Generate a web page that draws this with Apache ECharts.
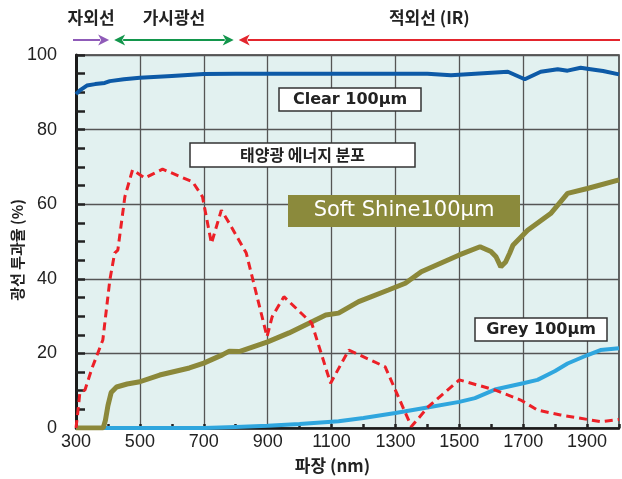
<!DOCTYPE html>
<html>
<head>
<meta charset="utf-8">
<script src="https://cdn.jsdelivr.net/npm/echarts@6/dist/echarts.min.js"></script>
<style>
    html, body { margin: 0; padding: 0; background: #fff; }
    #chart { width: 622px; height: 479px; }
</style>
</head>
<body>
<div id="chart"></div>
<script>
// wavelength (nm), transmittance (%)
const clearData = [
    [300, 89.5], [312, 90.5], [334, 91.8], [360, 92.2], [390, 92.5], [406, 93], [450, 93.5],
    [500, 93.9], [600, 94.4], [700, 94.9], [800, 95], [900, 95], [1000, 95], [1100, 95],
    [1200, 95], [1300, 95], [1400, 95], [1474, 94.6], [1550, 95], [1652, 95.5], [1705, 93.5],
    [1755, 95.5], [1808, 96.2], [1839, 95.8], [1880, 96.6], [1911, 96.2], [1950, 95.7], [2000, 94.8]
]
const softShineData = [
    [300, 0], [385, 0], [392, 2], [400, 6], [410, 9.5], [427, 11], [460, 11.8], [500, 12.4],
    [562, 14.2], [655, 16.1], [700, 17.4], [758, 19.6], [780, 20.6], [811, 20.5], [900, 23.1],
    [967, 25.5], [1082, 30.3], [1122, 30.8], [1185, 33.9], [1278, 37], [1331, 38.8], [1381, 41.9],
    [1500, 46.4], [1565, 48.6], [1599, 47.3], [1615, 45.9], [1630, 43.2], [1645, 44.5], [1658, 46.9],
    [1668, 49], [1714, 53], [1786, 57.5], [1839, 62.9], [1901, 64.2], [2000, 66.5]
]
const greyData = [
    [300, 0], [700, 0], [800, 0.3], [900, 0.6], [1000, 1.1], [1122, 1.8], [1200, 2.7], [1300, 4],
    [1400, 5.5], [1500, 7], [1549, 8], [1615, 10.4], [1700, 12], [1745, 12.9], [1800, 15.3],
    [1839, 17.3], [1900, 19.5], [1942, 20.9], [2000, 21.4]
]
const solarData = [
    [300, 0], [308, 6], [312, 9.4], [318, 9], [328, 10.2], [350, 16], [384, 23.6], [406, 39.7],
    [421, 46.9], [431, 47.7], [453, 62], [477, 69.2], [515, 67], [571, 69.4], [665, 66], [696, 62],
    [724, 49.5], [755, 58.4], [780, 54.9], [833, 46.9], [898, 24.5], [914, 29.8], [951, 35.2],
    [1038, 28.1], [1097, 12], [1154, 20.9], [1268, 16.4], [1350, 0.4], [1403, 5.7], [1500, 12.9],
    [1611, 10.2], [1692, 7.5], [1745, 4.8], [1817, 3.5], [1942, 1.7], [2000, 2.3]
]

const xTickLabels = [300, 500, 700, 900, 1100, 1300, 1500, 1700, 1900]
const bandNames = ['자외선', '가시광선', '적외선 (IR)']
const bandEdges = [300, 410, 800, 2000]
const bandColors = ['#8f5bb8', '#13964c', '#e3252d']

const chart = echarts.init(document.getElementById('chart'))

const option = {
    animation: false,
    grid: {
        left: 76, right: 1, top: 55, bottom: 51,
        show: true, backgroundColor: '#e2f1f0', borderColor: '#333', borderWidth: 1.5
    },
    xAxis: {
        type: 'value', min: 300, max: 2000, interval: 100,
        name: '파장 (nm)', nameLocation: 'middle', nameGap: 29,
        nameTextStyle: {
            fontFamily: 'Noto Sans CJK KR', fontWeight: 'bold', fontSize: 17, color: '#222',
            padding: [0, 30, 0, 0]
        },
        axisLine: { show: true, onZero: false, lineStyle: { color: '#1a1a1a', width: 2.5 } },
        axisTick: { show: true, inside: true, length: 4, lineStyle: { color: '#222', width: 2.5 } },
        axisLabel: {
            fontFamily: 'Liberation Sans', fontSize: 18, color: '#222', margin: 5,
            formatter: v => xTickLabels.includes(v) ? String(v) : ''
        },
        splitLine: { show: true, showMinLine: true, showMaxLine: true, lineStyle: { color: ['#555', 'transparent'], width: 1.3 } }
    },
    yAxis: {
        type: 'value', min: 0, max: 100, interval: 20,
        axisLine: { show: true, lineStyle: { color: '#1a1a1a', width: 3 } },
        axisTick: { show: true, inside: true, length: 9, lineStyle: { color: '#222', width: 2.5 } },
        minorTick: { show: true, splitNumber: 4, length: 9, lineStyle: { color: '#222', width: 2.5 } },
        axisLabel: { fontFamily: 'Liberation Sans', fontSize: 18, color: '#222', margin: 19 },
        splitLine: { show: true, lineStyle: { color: '#555', width: 1.3 } }
    },
    series: [
        {
            name: 'Grey 100μm', type: 'line', data: greyData, showSymbol: false, z: 2,
            lineStyle: { color: '#2fa6de', width: 4 }
        },
        {
            name: 'Soft Shine100μm', type: 'line', data: softShineData, showSymbol: false, z: 3,
            lineStyle: { color: '#8b883a', width: 5 }
        },
        {
            name: 'Clear 100μm', type: 'line', data: clearData, showSymbol: false, z: 4,
            lineStyle: { color: '#0d5aa7', width: 4 }
        },
        {
            name: '태양광 에너지 분포', type: 'line', data: solarData, showSymbol: false, z: 5,
            lineStyle: { color: '#ec2027', width: 3, type: [8, 5] }
        }
    ]
}

chart.setOption(option)

// label boxes
function labelBox(x, y, w, h, text, style) {
    return {
        type: 'group', x: x, y: y, z: 10,
        children: [
            {
                type: 'rect', shape: { x: 0, y: 0, width: w, height: h },
                style: style.box
            },
            {
                type: 'text', x: w / 2, y: h / 2,
                style: Object.assign({ text: text, align: 'center', verticalAlign: 'middle' }, style.text)
            }
        ]
    }
}

const whiteBox = { fill: '#fff', stroke: '#333', lineWidth: 1.5 }
const graphics = [
    labelBox(279, 88, 142, 23, 'Clear 100μm', {
        box: whiteBox, text: { fontFamily: 'DejaVu Sans', fontWeight: 'bold', fontSize: 16, fill: '#222' }
    }),
    labelBox(190, 143, 225, 24, '태양광 에너지 분포', {
        box: whiteBox, text: { fontFamily: 'Noto Sans CJK KR', fontWeight: 'bold', fontSize: 16, fill: '#222' }
    }),
    labelBox(288, 195, 232, 32, 'Soft Shine100μm', {
        box: { fill: '#8b8a3c' }, text: { fontFamily: 'DejaVu Sans', fontSize: 21, fill: '#fff' }
    }),
    labelBox(475, 318, 132, 23, 'Grey 100μm', {
        box: whiteBox, text: { fontFamily: 'DejaVu Sans', fontWeight: 'bold', fontSize: 16, fill: '#222' }
    }),
    {
        type: 'text', x: 17, y: 250, rotation: Math.PI / 2,
        style: {
            text: '광선 투과율 (%)', align: 'center', verticalAlign: 'middle',
            fontFamily: 'Noto Sans CJK KR', fontWeight: 'bold', fontSize: 15, fill: '#222'
        }
    }
]

// spectrum band arrows above the plot
const arrowY = 40
const head = 11
bandNames.forEach((name, i) => {
    const x0 = chart.convertToPixel({ xAxisIndex: 0 }, bandEdges[i]) + (i === 0 ? -3 : 3)
    const x1 = chart.convertToPixel({ xAxisIndex: 0 }, bandEdges[i + 1]) + (i === bandNames.length - 1 ? 1 : -2)
    const color = bandColors[i]
    const leftHead = i > 0
    const rightHead = i < bandNames.length - 1
    graphics.push({
        type: 'line',
        shape: { x1: x0 + (leftHead ? head - 2 : 0), y1: arrowY, x2: x1 - (rightHead ? head - 2 : 0), y2: arrowY },
        style: { stroke: color, lineWidth: 2 }
    })
    if (rightHead) {
        graphics.push({
            type: 'polygon',
            shape: { points: [[x1, arrowY], [x1 - head, arrowY - 5.5], [x1 - head + 3, arrowY], [x1 - head, arrowY + 5.5]] },
            style: { fill: color }
        })
    }
    if (leftHead) {
        graphics.push({
            type: 'polygon',
            shape: { points: [[x0, arrowY], [x0 + head, arrowY - 5.5], [x0 + head - 3, arrowY], [x0 + head, arrowY + 5.5]] },
            style: { fill: color }
        })
    }
    graphics.push({
        type: 'text', x: (x0 + x1) / 2, y: 18,
        style: {
            text: name, align: 'center', verticalAlign: 'middle',
            fontFamily: 'Noto Sans CJK KR', fontWeight: 'bold', fontSize: 17, fill: '#222'
        }
    })
})

chart.setOption({ graphic: graphics })
</script>
</body>
</html>
